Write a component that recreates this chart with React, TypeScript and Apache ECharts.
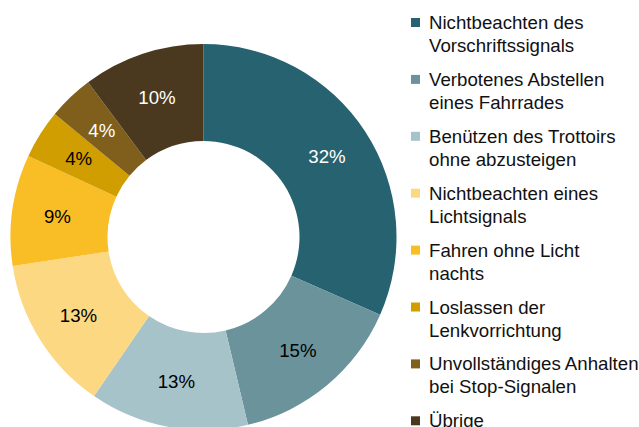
import React, { useEffect, useRef } from "react";
import * as echarts from "echarts";

const categories = [
  "Nichtbeachten des\nVorschriftssignals",
  "Verbotenes Abstellen\neines Fahrrades",
  "Benützen des Trottoirs\nohne abzusteigen",
  "Nichtbeachten eines\nLichtsignals",
  "Fahren ohne Licht\nnachts",
  "Loslassen der\nLenkvorrichtung",
  "Unvollständiges Anhalten\nbei Stop-Signalen",
  "Übrige",
];
const values = [31.6, 14.7, 13.3, 13.0, 9.3, 4.1, 3.8, 10.2];
const colors = ["#276270", "#6a939b", "#a7c3ca", "#fdd882", "#f9bd26", "#d09e00", "#805f1d", "#4a391f"];
const labelColors = ["#ffffff", "#000000", "#000000", "#000000", "#000000", "#000000", "#ffffff", "#ffffff"];

const FONT = "'Liberation Sans', Arial, sans-serif";

export default function App() {
  const ref = useRef<HTMLDivElement>(null);
  useEffect(() => {
    document.body.style.margin = "0";
    const chart = echarts.init(ref.current!, null, { renderer: "svg" });
    chart.setOption({
      animation: false,
      backgroundColor: "#ffffff",
      legend: {
        orient: "vertical",
        left: 411,
        top: -10,
        height: 700,
        padding: 0,
        itemGap: -8.1,
        itemWidth: 9,
        itemHeight: 9,
        icon: "rect",
        selectedMode: false,
        formatter: (name: string) => {
          const lines = name.split("\n");
          const body = lines.map((l) => "{a|" + l + "}").join("\n");
          return "{b| }\n" + body + (lines.length < 2 ? "\n{b| }" : "");
        },
        textStyle: {
          fontFamily: FONT,
          fontSize: 18.67,
          color: "#111111",
          rich: {
            a: { fontFamily: FONT, fontSize: 18.67, lineHeight: 23, color: "#111111", padding: [0, 0, 0, 4] },
            b: { fontFamily: FONT, fontSize: 18.67, lineHeight: 23 },
          },
        },
        data: categories,
      },
      series: [
        {
          type: "pie",
          center: [203.5, 237],
          radius: [96, 193],
          startAngle: 90,
          clockwise: true,
          avoidLabelOverlap: false,
          label: {
            show: true,
            position: "inside",
            fontFamily: FONT,
            fontSize: 18.67,
            formatter: (p: any) => Math.round(p.value) + "%",
          },
          labelLine: { show: false },
          emphasis: { disabled: true },
          data: categories.map((name, i) => ({
            name,
            value: values[i],
            itemStyle: { color: colors[i] },
            label: { color: labelColors[i] },
          })),
        },
      ],
    });
    return () => chart.dispose();
  }, []);
  return <div ref={ref} style={{ width: 639, height: 427 }} />;
}
